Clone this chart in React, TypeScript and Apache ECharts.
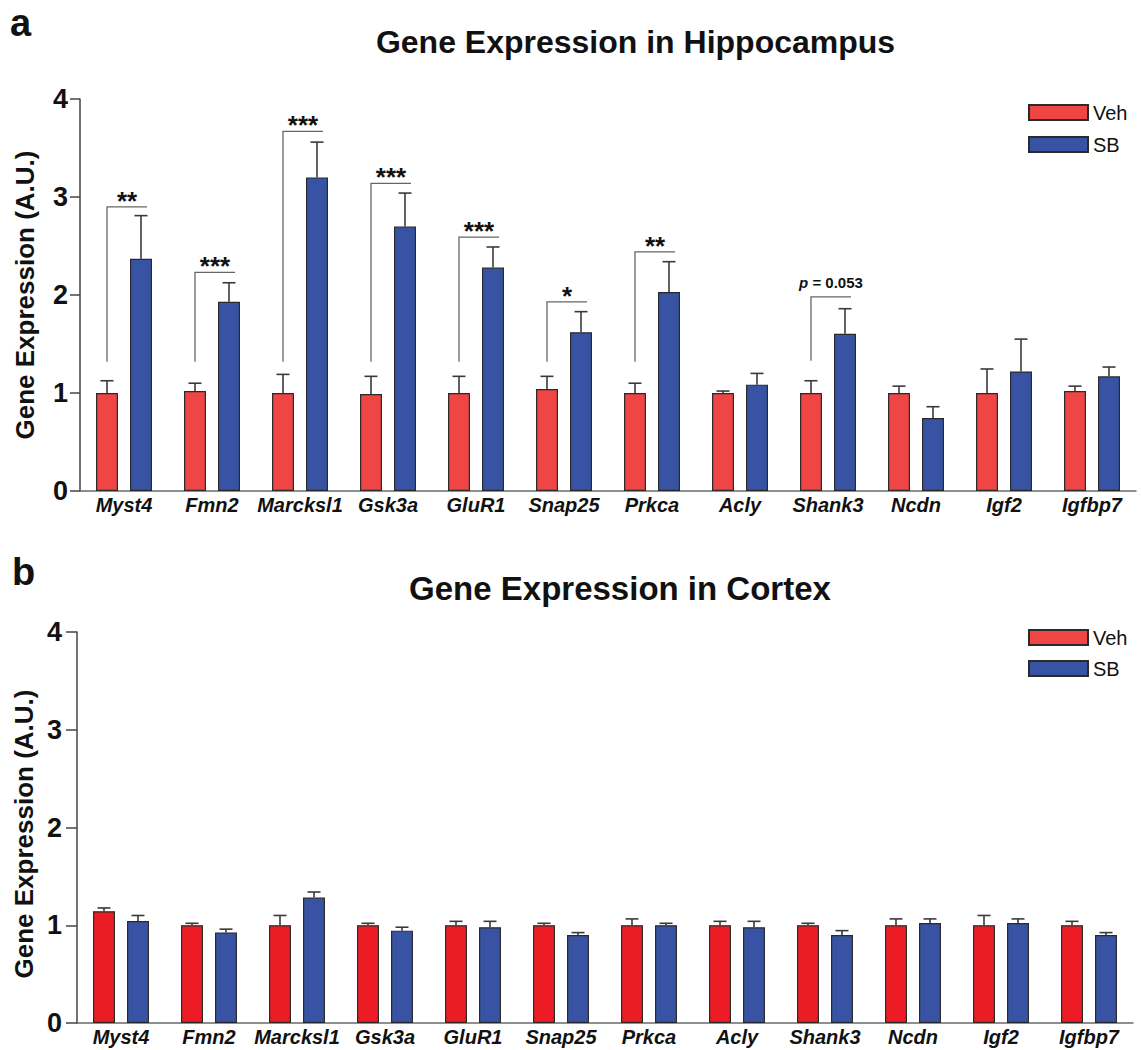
import React, { useEffect, useRef } from "react";
import * as echarts from "echarts";

const categories = ["Myst4", "Fmn2", "Marcksl1", "Gsk3a", "GluR1", "Snap25", "Prkca", "Acly", "Shank3", "Ncdn", "Igf2", "Igfbp7"];
const yTicks = [0, 1, 2, 3, 4];

const hippoVeh = [1.0, 1.02, 1.0, 0.99, 1.0, 1.04, 1.0, 1.0, 1.0, 1.0, 1.0, 1.02];
const hippoVehSem = [0.125, 0.08, 0.19, 0.18, 0.17, 0.13, 0.1, 0.02, 0.125, 0.07, 0.245, 0.05];
const hippoSB = [2.37, 1.93, 3.2, 2.7, 2.28, 1.62, 2.03, 1.085, 1.605, 0.745, 1.22, 1.17];
const hippoSBSem = [0.44, 0.195, 0.36, 0.34, 0.21, 0.21, 0.31, 0.115, 0.255, 0.115, 0.33, 0.095];

const cortexVeh = [1.143, 1.0, 1.0, 1.0, 1.0, 1.0, 1.0, 1.0, 1.0, 1.0, 1.0, 1.0];
const cortexVehSem = [0.034, 0.02, 0.1, 0.02, 0.04, 0.02, 0.065, 0.04, 0.02, 0.065, 0.1, 0.04];
const cortexSB = [1.044, 0.925, 1.283, 0.945, 0.98, 0.9, 1.0, 0.98, 0.9, 1.023, 1.023, 0.9];
const cortexSBSem = [0.056, 0.035, 0.057, 0.035, 0.06, 0.025, 0.02, 0.06, 0.045, 0.042, 0.042, 0.025];

const bracketCats = [0, 1, 2, 3, 4, 5, 6, 8];
const bracketLow = [1.32, 1.32, 1.32, 1.32, 1.32, 1.32, 1.32, 1.33];
const bracketHigh = [2.9, 2.23, 3.67, 3.14, 2.59, 1.93, 2.44, 1.98];
const bracketLabels = ["**", "***", "***", "***", "***", "*", "**", "p = 0.053"];

const FONT = "'Liberation Sans', Arial, Helvetica, sans-serif";
const BAR_W = 22;
const BAR_GAP_PX = 12;
const OFFSET = (BAR_W + BAR_GAP_PX) / 2;
const RED_TOP = "#EF4545";
const RED_BOTTOM = "#EC1C24";
const BLUE = "#3953A4";

function errorSeries(name: string, axisIdx: number, means: number[], sems: number[], offset: number) {
  return {
    type: "custom",
    name,
    xAxisIndex: axisIdx,
    yAxisIndex: axisIdx,
    z: 5,
    silent: true,
    data: means.map((m, i) => [i, m, m + sems[i]]),
    encode: { x: 0, y: [1, 2] },
    renderItem: (params: any, api: any) => {
      const idx = api.value(0);
      const x = api.coord([idx, 0])[0] + offset;
      const yLo = api.coord([idx, api.value(1)])[1];
      const yHi = api.coord([idx, api.value(2)])[1];
      const st = { stroke: "#3a3a3a", lineWidth: 1.6 };
      return {
        type: "group",
        children: [
          { type: "line", shape: { x1: x, y1: yLo, x2: x, y2: yHi }, style: st },
          { type: "line", shape: { x1: x - 6.5, y1: yHi, x2: x + 6.5, y2: yHi }, style: st },
        ],
      };
    },
  };
}

function barSeries(name: string, axisIdx: number, data: number[], color: string) {
  return {
    type: "bar",
    name,
    xAxisIndex: axisIdx,
    yAxisIndex: axisIdx,
    data,
    barWidth: BAR_W,
    barGap: (BAR_GAP_PX / BAR_W) * 100 + "%",
    itemStyle: { color, borderColor: "#2a2a2a", borderWidth: 1.2 },
    z: 3,
  };
}

export default function App() {
  const ref = useRef<HTMLDivElement>(null);
  useEffect(() => {
    if (!ref.current) return;
    const chart = echarts.init(ref.current, null, { renderer: "svg" });

    const xAxisCommon = {
      type: "category",
      data: categories,
      axisLine: { lineStyle: { color: "#6a6a6a", width: 1.5 } },
      axisTick: { show: false },
      axisLabel: {
        color: "#111",
        fontFamily: FONT,
        fontSize: 20,
        fontWeight: "bold",
        fontStyle: "italic",
        margin: 4,
        interval: 0,
      },
    };
    const yAxisCommon = (margin: number, tickLen: number) => ({
      type: "value",
      min: yTicks[0],
      max: yTicks[yTicks.length - 1],
      interval: 1,
      axisLine: { show: true, lineStyle: { color: "#444", width: 1.5 } },
      axisTick: { show: true, length: tickLen, lineStyle: { color: "#444", width: 1.5 } },
      splitLine: { show: false },
      axisLabel: { color: "#111", fontFamily: FONT, fontSize: 27, fontWeight: "bold", margin },
    });

    const bracketSeries = {
      type: "custom",
      name: "brackets",
      xAxisIndex: 0,
      yAxisIndex: 0,
      z: 6,
      silent: true,
      data: bracketCats.map((c, i) => [c, bracketLow[i], bracketHigh[i], i]),
      encode: { x: 0, y: [1, 2] },
      renderItem: (params: any, api: any) => {
        const idx = api.value(0);
        const cx = api.coord([idx, 0])[0];
        const xL = cx - OFFSET;
        const xR = cx + OFFSET + 6;
        const yLo = api.coord([idx, api.value(1)])[1];
        const yHi = api.coord([idx, api.value(2)])[1];
        const label = bracketLabels[api.value(3)];
        const isP = label.startsWith("p");
        const textEl: any = isP
          ? {
              type: "text",
              x: (xL + xR) / 2,
              y: yHi - 14,
              style: {
                text: "{i|p} = 0.053",
                align: "center",
                verticalAlign: "middle",
                fontFamily: FONT,
                fontSize: 15,
                fontWeight: "bold",
                fill: "#111",
                rich: { i: { fontStyle: "italic", fontWeight: "bold", fontSize: 15, fontFamily: FONT, fill: "#111" } },
              },
            }
          : {
              type: "text",
              x: (xL + xR) / 2,
              y: yHi - 6,
              style: {
                text: label,
                align: "center",
                verticalAlign: "middle",
                fontFamily: FONT,
                fontSize: 26,
                fontWeight: "bold",
                fill: "#111",
              },
            };
        return {
          type: "group",
          children: [
            {
              type: "polyline",
              shape: { points: [[xL, yLo], [xL, yHi], [xR, yHi]] },
              style: { stroke: "#666", lineWidth: 1.3, fill: "none" },
            },
            textEl,
          ],
        };
      },
    };

    const legendCommon = {
      orient: "vertical",
      left: 1023,
      itemWidth: 59,
      itemHeight: 15,
      icon: "rect",
      data: ["Veh", "SB"],
      textStyle: { color: "#111", fontFamily: FONT, fontSize: 20 },
      selectedMode: false,
    };

    const option: any = {
      animation: false,
      backgroundColor: "#fff",
      grid: [
        { left: 80, top: 99, width: 1056, height: 392, containLabel: false },
        { left: 77, top: 632, width: 1056, height: 391, containLabel: false },
      ],
      xAxis: [
        { ...xAxisCommon, gridIndex: 0 },
        { ...xAxisCommon, gridIndex: 1 },
      ],
      yAxis: [
        { ...yAxisCommon(12, 10), gridIndex: 0 },
        { ...yAxisCommon(15, 11), gridIndex: 1 },
      ],
      legend: [
        { ...legendCommon, top: 97.5, itemGap: 12 },
        { ...legendCommon, top: 622.5, itemGap: 11 },
      ],
      graphic: [
        { type: "text", x: 10, y: 23, style: { text: "a", fontFamily: FONT, fontSize: 38, fontWeight: "bold", fill: "#111", verticalAlign: "middle" } },
        { type: "text", x: 12, y: 572, style: { text: "b", fontFamily: FONT, fontSize: 38, fontWeight: "bold", fill: "#111", verticalAlign: "middle" } },
        { type: "text", x: 635.5, y: 41.6, style: { text: "Gene Expression in Hippocampus", fontFamily: FONT, fontSize: 32, fontWeight: "bold", fill: "#111", align: "center", verticalAlign: "middle" } },
        { type: "text", x: 620, y: 588.6, style: { text: "Gene Expression in Cortex", fontFamily: FONT, fontSize: 33, fontWeight: "bold", fill: "#111", align: "center", verticalAlign: "middle" } },
        { type: "text", x: 25, y: 295, rotation: Math.PI / 2, style: { text: "Gene Expression (A.U.)", fontFamily: FONT, fontSize: 26, fontWeight: "bold", fill: "#111", align: "center", verticalAlign: "middle" } },
        { type: "text", x: 24, y: 834, rotation: Math.PI / 2, style: { text: "Gene Expression (A.U.)", fontFamily: FONT, fontSize: 26, fontWeight: "bold", fill: "#111", align: "center", verticalAlign: "middle" } },
      ],
      series: [
        barSeries("Veh", 0, hippoVeh, RED_TOP),
        barSeries("SB", 0, hippoSB, BLUE),
        errorSeries("vehErrTop", 0, hippoVeh, hippoVehSem, -OFFSET),
        errorSeries("sbErrTop", 0, hippoSB, hippoSBSem, OFFSET),
        bracketSeries,
        barSeries("Veh", 1, cortexVeh, RED_BOTTOM),
        barSeries("SB", 1, cortexSB, BLUE),
        errorSeries("vehErrBottom", 1, cortexVeh, cortexVehSem, -OFFSET),
        errorSeries("sbErrBottom", 1, cortexSB, cortexSBSem, OFFSET),
      ],
    };
    chart.setOption(option);
    return () => chart.dispose();
  }, []);

  return <div ref={ref} style={{ position: "absolute", left: 0, top: 0, width: 1141, height: 1050, background: "#fff" }} />;
}
